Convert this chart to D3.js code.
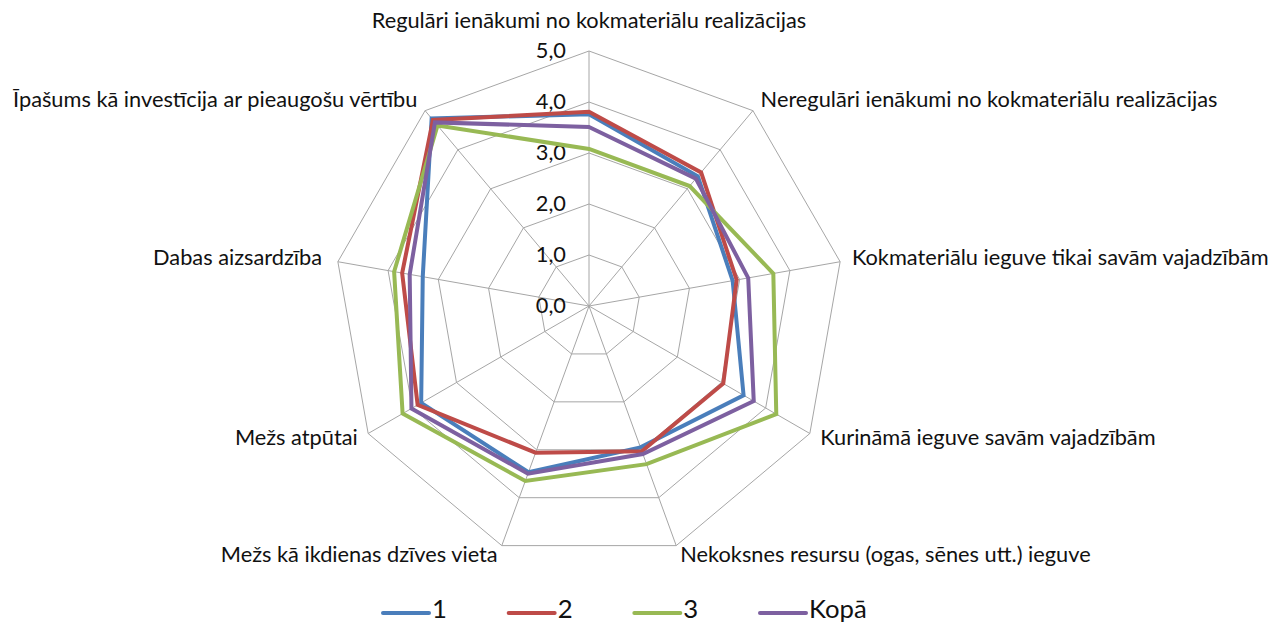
<!DOCTYPE html>
<html><head><meta charset="utf-8">
<script src="https://cdn.jsdelivr.net/npm/d3@7"></script>
<style>
html,body{margin:0;padding:0;background:#fff;}
svg{display:block;}
text{font-family:Lato,"Open Sans",sans-serif;fill:#111;}
</style></head>
<body>
<svg id="chart" width="1270" height="623"></svg>
<script>
const categories = [
  "Regulāri ienākumi no kokmateriālu realizācijas",
  "Neregulāri ienākumi no kokmateriālu realizācijas",
  "Kokmateriālu ieguve tikai savām vajadzībām",
  "Kurināmā ieguve savām vajadzībām",
  "Nekoksnes resursu (ogas, sēnes utt.) ieguve",
  "Mežs kā ikdienas dzīves vieta",
  "Mežs atpūtai",
  "Dabas aizsardzība",
  "Īpašums kā investīcija ar pieaugošu vērtību"
];
const seriesNames = ["1", "2", "3", "Kopā"];
const values1 = [3.76, 3.32, 2.86, 3.50, 2.95, 3.47, 3.80, 3.31, 4.80];
const values2 = [3.81, 3.42, 2.94, 3.04, 3.03, 3.06, 3.88, 3.72, 4.76];
const values3 = [3.08, 3.07, 3.67, 4.24, 3.30, 3.65, 4.22, 3.88, 4.62];
const valuesKopa = [3.51, 3.26, 3.17, 3.73, 3.09, 3.50, 4.02, 3.57, 4.70];
const tickValues = [0, 1, 2, 3, 4, 5];
const colors = ["#4A7EBB", "#BE4B48", "#98B954", "#7D60A0"];

const seriesData = [values1, values2, values3, valuesKopa];

const svg = d3.select("#chart");
const cx = 589, cy = 306, R = 255;
const r = d3.scaleLinear().domain([0, 5]).range([0, R]);
const n = categories.length;
const angle = d3.scaleLinear().domain([0, n]).range([0, 2 * Math.PI]);
const pt = (i, v) => [cx + r(v) * Math.sin(angle(i)), cy - r(v) * Math.cos(angle(i))];

// grid polygons
const g = svg.append("g");
tickValues.filter(t => t > 0).forEach(t => {
  g.append("path")
    .attr("d", d3.line()(d3.range(n).map(i => pt(i, t))) + "Z")
    .attr("fill", "none").attr("stroke", "#A6A6A6").attr("stroke-width", 1);
});
d3.range(n).forEach(i => {
  const p = pt(i, 5);
  g.append("line").attr("x1", cx).attr("y1", cy).attr("x2", p[0]).attr("y2", p[1])
    .attr("stroke", "#A6A6A6").attr("stroke-width", 1);
});

// measure font scale
const probe = svg.append("text").attr("font-size", 20).text(categories[0]);
const w = probe.node().getComputedTextLength();
probe.remove();
const fs = 20 * 435 / w;

// tick labels
tickValues.forEach(t => {
  svg.append("text")
    .attr("x", cx - 23).attr("y", cy - r(t) + 1)
    .attr("text-anchor", "end").attr("dominant-baseline", "middle")
    .attr("font-size", fs)
    .text(d3.format(".1f")(t).replace(".", ","));
});

// series
const line = d3.line();
seriesData.forEach((vals, s) => {
  svg.append("path")
    .attr("d", line(vals.map((v, i) => pt(i, v))) + "Z")
    .attr("fill", "none").attr("stroke", colors[s]).attr("stroke-width", 4)
    .attr("stroke-linejoin", "miter");
});

// category labels
categories.forEach((c, i) => {
  const a = angle(i);
  const sx = Math.sin(a), cyv = -Math.cos(a);
  const p = pt(i, 5);
  let x = p[0] + sx * 12, y = p[1] + cyv * 12;
  let anchor = Math.abs(sx) < 0.01 ? "middle" : (sx > 0 ? "start" : "end");
  if (i === 0) y = p[1] - 29;
  svg.append("text").attr("x", x - (sx < -0.9 ? 4 : 0)).attr("y", y)
    .attr("text-anchor", anchor).attr("dominant-baseline", "middle")
    .attr("font-size", fs).text(c);
});

// legend
const legendX = d3.scalePoint().domain(seriesNames).range([383, 760]);
const lg = svg.append("g");
seriesNames.forEach((nm, s) => {
  const x0 = legendX(nm);
  lg.append("line").attr("x1", x0).attr("x2", x0 + 46).attr("y1", 613).attr("y2", 613)
    .attr("stroke", colors[s]).attr("stroke-width", 4).attr("stroke-linecap", "round");
  lg.append("text").attr("x", x0 + 49).attr("y", 618)
    .attr("font-size", fs * 1.18).text(nm);
});
</script>
</body></html>
